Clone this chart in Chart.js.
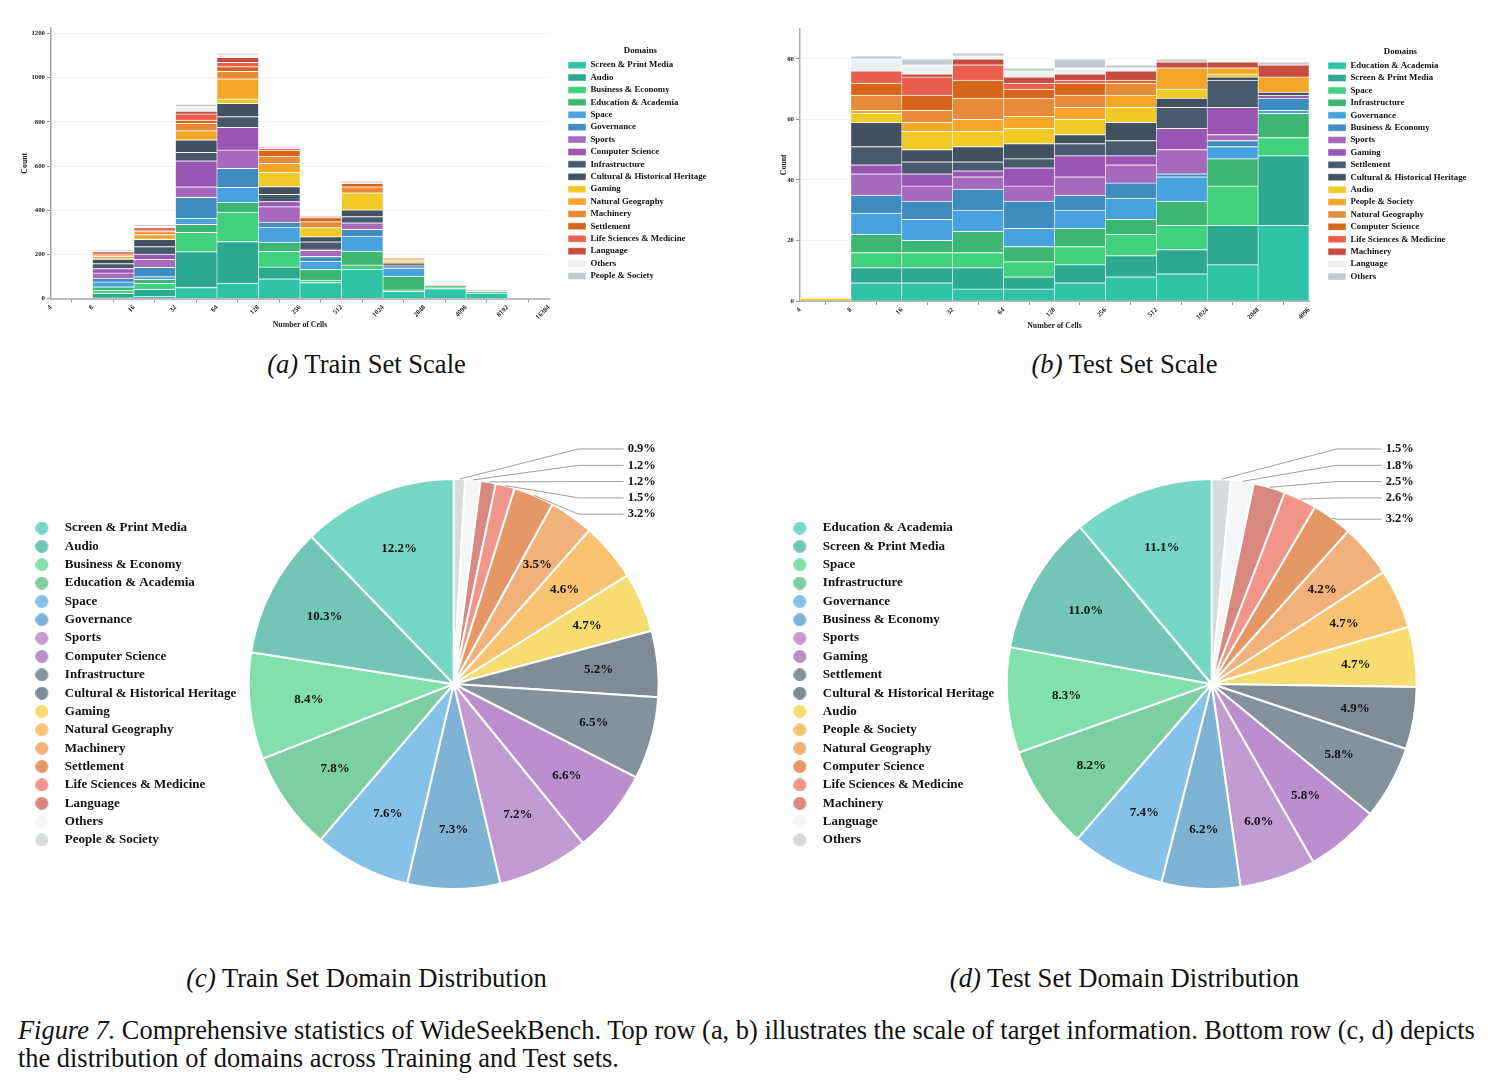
<!DOCTYPE html>
<html><head><meta charset="utf-8">
<script src="https://cdn.jsdelivr.net/npm/chart.js@4.4.1/dist/chart.umd.min.js"></script>
<style>
html,body{margin:0;padding:0;background:#fff;}
body{width:1491px;height:1090px;position:relative;overflow:hidden;font-family:"Liberation Serif","Times New Roman",serif;color:#111;}
canvas{position:absolute;}
.cap{position:absolute;font-size:26.6px;text-align:center;white-space:nowrap;line-height:26px;}
.fig{position:absolute;left:18px;font-size:26.4px;white-space:nowrap;line-height:26px;}
</style></head><body>
<canvas id="trainBar" width="720" height="315" style="left:10px;top:20px"></canvas>
<canvas id="testBar" width="725" height="316" style="left:760px;top:20px"></canvas>
<canvas id="trainPie" width="700" height="480" style="left:0px;top:420px"></canvas>
<canvas id="testPie" width="700" height="480" style="left:758px;top:420px"></canvas>
<div class="cap" style="left:0;width:733px;top:351px"><i>(a)</i> Train Set Scale</div>
<div class="cap" style="left:758px;width:733px;top:351px"><i>(b)</i> Test Set Scale</div>
<div class="cap" style="left:0;width:733px;top:965px"><i>(c)</i> Train Set Domain Distribution</div>
<div class="cap" style="left:758px;width:733px;top:965px"><i>(d)</i> Test Set Domain Distribution</div>
<div class="fig" style="top:1017px"><i>Figure 7.</i> Comprehensive statistics of WideSeekBench. Top row (a, b) illustrates the scale of target information. Bottom row (c, d) depicts</div>
<div class="fig" style="top:1045px">the distribution of domains across Training and Test sets.</div>
<script>
// ---------- shared palette (by legend position) ----------
const palette = ['#1abc9c','#16a085','#2ecc71','#27ae60','#3498db','#2980b9','#9b59b6','#8e44ad','#34495e','#2c3e50','#f1c40f','#f39c12','#e67e22','#d35400','#e74c3c','#c0392b','#ecf0f1','#bdc3c7'];

// ---------- Train set scale (stacked histogram) ----------
const trainTicks = ['4','8','16','32','64','128','256','512','1024','2048','4096','8192','16384'];
const trainDomains = ['Screen & Print Media','Audio','Business & Economy','Education & Academia','Space','Governance','Sports','Computer Science','Infrastructure','Cultural & Historical Heritage','Gaming','Natural Geography','Machinery','Settlement','Life Sciences & Medicine','Language','Others','People & Society'];
const trainScreenPrint = [0, 5, 10, 50, 70, 89, 72, 132, 32, 45, 25, 0];
const trainAudio       = [0, 18, 31, 162, 188, 54, 0, 0, 3, 0, 0, 0];
const trainBusiness    = [0, 15, 28, 88, 133, 71, 11, 20, 4, 4, 6, 0];
const trainEducation   = [0, 15, 18, 36, 45, 42, 49, 63, 61, 9, 0, 0];
const trainSpace       = [0, 22, 12, 27, 68, 67, 38, 68, 38, 0, 0, 0];
const trainGovernance  = [0, 18, 42, 95, 86, 23, 20, 30, 4, 0, 0, 0];
const trainSports      = [0, 23, 36, 48, 83, 70, 28, 30, 2, 0, 0, 0];
const trainCompSci     = [0, 20, 24, 118, 102, 23, 6, 0, 0, 0, 0, 0];
const trainInfra       = [0, 22, 34, 38, 49, 33, 33, 28, 8, 0, 0, 0];
const trainCultural    = [0, 20, 33, 56, 60, 35, 23, 30, 10, 0, 0, 0];
const trainGaming      = [0, 4, 2, 2, 20, 64, 41, 78, 5, 0, 0, 0];
const trainNatGeo      = [0, 9, 20, 40, 91, 41, 0, 0, 6, 1, 0, 0];
const trainMachinery   = [0, 5, 13, 33, 34, 33, 27, 27, 4, 1, 0, 0];
const trainSettlement  = [0, 4, 7, 15, 21, 27, 18, 15, 2, 0, 0, 0];
const trainLifeSci     = [0, 6, 6, 28, 20, 8, 2, 2, 1, 0, 0, 0];
const trainLanguage    = [0, 4, 4, 13, 22, 3, 1, 1, 0, 0, 0, 0];
const trainOthers      = [0, 4, 8, 20, 12, 5, 2, 3, 1, 1, 4, 0];
const trainPeople      = [0, 4, 4, 11, 6, 2, 2, 2, 1, 0, 3, 0];
const trainSeries = [trainScreenPrint, trainAudio, trainBusiness, trainEducation, trainSpace, trainGovernance, trainSports, trainCompSci, trainInfra, trainCultural, trainGaming, trainNatGeo, trainMachinery, trainSettlement, trainLifeSci, trainLanguage, trainOthers, trainPeople];

// ---------- Test set scale (stacked histogram) ----------
const testTicks = ['4','8','16','32','64','128','256','512','1024','2048','4096'];
const testDomains = ['Education & Academia','Screen & Print Media','Space','Infrastructure','Governance','Business & Economy','Sports','Gaming','Settlement','Cultural & Historical Heritage','Audio','People & Society','Natural Geography','Computer Science','Life Sciences & Medicine','Machinery','Language','Others'];
const testEducation   = [0, 6, 6, 4, 4, 6, 8, 9, 12, 25];
const testScreenPrint = [0, 5, 5, 7, 4, 6, 7, 8, 13, 23];
const testSpace       = [0, 5, 5, 5, 5, 6, 7, 8, 13, 6];
const testInfra       = [0, 6, 4, 7, 5, 6, 5, 8, 9, 8];
const testGovernance  = [0, 7, 7, 7, 6, 6, 7, 8, 4, 1];
const testBusiness    = [0, 6, 6, 7, 9, 5, 5, 1, 2, 4];
const testSports      = [0, 7, 5, 4, 5, 6, 6, 8, 2, 0];
const testGaming      = [0, 3, 4, 2, 6, 7, 3, 7, 9, 1];
const testSettlement  = [0, 6, 4, 3, 3, 4, 5, 7, 9, 0];
const testCultural    = [0, 8, 4, 5, 5, 3, 6, 3, 1, 1];
const testAudio       = [1, 3, 6, 5, 5, 5, 5, 3, 1, 0];
const testPeople      = [0, 1, 3, 4, 4, 4, 4, 7, 2, 5];
const testNatGeo      = [0, 5, 4, 7, 6, 4, 4, 0, 0, 0];
const testCompSci     = [0, 4, 5, 6, 3, 4, 1, 0, 0, 0];
const testLifeSci     = [0, 4, 6, 5, 2, 1, 0, 0, 0, 0];
const testMachinery   = [0, 0, 1, 2, 2, 2, 3, 2, 2, 4];
const testLanguage    = [0, 4, 3, 1, 2, 2, 1, 0, 0, 0];
const testOthers      = [0, 1, 2, 1, 1, 3, 1, 1, 0, 1];
const testSeries = [testEducation, testScreenPrint, testSpace, testInfra, testGovernance, testBusiness, testSports, testGaming, testSettlement, testCultural, testAudio, testPeople, testNatGeo, testCompSci, testLifeSci, testMachinery, testLanguage, testOthers];

// ---------- Domain distribution (pie, %) ----------
const trainShares = [12.2, 10.3, 8.4, 7.8, 7.6, 7.3, 7.2, 6.6, 6.5, 5.2, 4.7, 4.6, 3.5, 3.2, 1.5, 1.2, 1.2, 0.9];
const testShares  = [11.1, 11.0, 8.3, 8.2, 7.4, 6.2, 6.0, 5.8, 5.8, 4.9, 4.7, 4.7, 4.2, 3.2, 2.6, 2.5, 1.8, 1.5];

// ---------- helpers ----------
const FONT = "'Liberation Serif', 'Times New Roman', serif";
function alpha(hex, a){ const n=parseInt(hex.slice(1),16); return `rgba(${n>>16&255},${n>>8&255},${n&255},${a})`; }
function mix(hex, a){ const n=parseInt(hex.slice(1),16); const f=c=>Math.round(c*a+255*(1-a)); return `rgb(${f(n>>16&255)},${f(n>>8&255)},${f(n&255)})`; }

// keeps a fixed gap between plot area and a right-hand legend
const legendGap = {
  id:'legendGap',
  beforeLayout(chart, args, opts){
    const lg = chart.legend;
    if (lg && !lg._gapPatched){
      const f = lg.fit;
      lg.fit = function(){ f.call(this); this.width = opts.total; };
      lg._gapPatched = true;
    }
  },
  afterLayout(chart, args, opts){
    const lg = chart.legend;
    if (lg){ lg.left += opts.gap; lg.width -= opts.gap; }
  }
};

function barConfig(c){
  const x0 = Math.log2(+c.ticks[0]), x1 = Math.log2(+c.ticks[c.ticks.length-1]);
  const tickFont = {family:FONT, size:6.8, weight:'bold'};
  const titleFont = {family:FONT, size:7.8, weight:'bold'};
  return {
    type:'bar',
    data:{ datasets: c.domains.map((d,k)=>({
      label:d,
      data: c.series[k].map((v,i)=>({x: Math.log2(+c.ticks[i]) + 0.5, y: v || null})),
      backgroundColor: alpha(palette[k],0.9),
      borderColor:'rgba(255,255,255,0.85)',
      borderWidth:{top:1,left:0.6,right:0.6,bottom:0},
      borderSkipped:false,
      barPercentage:1, categoryPercentage:1
    }))},
    options:{
      responsive:false, animation:false, devicePixelRatio:1,
      layout:{padding:{top:c.padTop, right:c.padRight, left:0, bottom:0}},
      scales:{
        x:{type:'linear', stacked:true, min:x0, max:x1, offset:false,
          ticks:{stepSize:1, autoSkip:false, minRotation:45, maxRotation:45, font:tickFont, color:'#222', padding:1,
                 callback:(v,i)=>c.ticks[i]},
          grid:{display:true, drawOnChartArea:false, drawTicks:true, tickLength:4, tickColor:'#999'},
          border:{color:'#bbb', width:2},
          title:{display:true, text:'Number of Cells', font:titleFont, color:'#222', padding:{top:0,bottom:5.5}},
          afterFit(s){ s.height = c.xH; }
        },
        y:{stacked:true, min:0, max:c.yMax,
          ticks:{font:tickFont, color:'#222', padding:2, callback:(v)=>String(v)},
          afterBuildTicks(s){ const t=[]; for(let v=0; v<=c.yMax; v+=c.yStep) t.push({value:v}); s.ticks=t; },
          grid:{color:'#f3f3f3', tickColor:'#999', tickLength:4},
          border:{color:'#aaa', width:1.5},
          title:{display:true, text:'Count', font:titleFont, color:'#222', padding:{top:c.yTitlePad,bottom:0}},
          afterFit(s){ s.width = c.yW; }
        }
      },
      plugins:{
        legendGap:{total:167.4, gap:15.4},
        legend:{position:'right', align:'start',
          title:{display:true, text:'Domains', font:{family:FONT,size:8.8,weight:'bold'}, color:'#111', padding:{top:18.6,bottom:0}},
          labels:{boxWidth:18, boxHeight:7, padding:3.6, font:{family:FONT,size:8.8,weight:'bold'}, color:'#111'}},
        tooltip:{enabled:false}
      }
    },
    plugins:[legendGap]
  };
}

new Chart(document.getElementById('trainBar'), barConfig({
  ticks:trainTicks, domains:trainDomains, series:trainSeries,
  yMax:1225, yStep:200, padTop:8, padRight:13.6, xH:36.5, yW:41, yTitlePad:10.5
}));
new Chart(document.getElementById('testBar'), barConfig({
  ticks:testTicks, domains:testDomains, series:testSeries,
  yMax:90, yStep:20, padTop:8.5, padRight:8.6, xH:35, yW:40, yTitlePad:19.5
}));

// ---------- pies ----------
function dot(color){
  const cv=document.createElement('canvas'); cv.width=23; cv.height=13;
  const g=cv.getContext('2d'); g.fillStyle=color; g.beginPath(); g.arc(6.5,6.5,6.5,0,Math.PI*2); g.fill();
  return cv;
}
const pieLabels = {
  id:'pieLabels',
  afterDatasetsDraw(chart){
    const ctx=chart.ctx, meta=chart.getDatasetMeta(0), vals=chart.data.datasets[0].data;
    ctx.save();
    ctx.fillStyle='#111'; ctx.textBaseline='middle';
    let slot=0;
    meta.data.forEach((arc,i)=>{
      const p=arc.getProps(['x','y','startAngle','endAngle','outerRadius'],true);
      const mid=(p.startAngle+p.endAngle)/2, r=p.outerRadius;
      const txt=vals[i].toFixed(1)+'%';
      if(vals[i]>=3.4){
        ctx.font=`bold 13px ${FONT}`; ctx.textAlign='center';
        ctx.fillText(txt, p.x+Math.cos(mid)*r*0.71, p.y+Math.sin(mid)*r*0.71);
      } else {
        const px=p.x+Math.cos(mid)*r, py=p.y+Math.sin(mid)*r;
        let ly=p.y-r-30+slot*16.3; slot++;
        if (mid + Math.PI/2 > Math.PI/6) ly=Math.max(ly, py+1);
        ctx.strokeStyle='#888'; ctx.lineWidth=0.8;
        ctx.beginPath(); ctx.moveTo(px,py); ctx.lineTo(p.x+125,ly); ctx.lineTo(p.x+170,ly); ctx.stroke();
        ctx.font=`bold 12.5px ${FONT}`; ctx.textAlign='left';
        ctx.fillText(txt, p.x+174, ly);
      }
    });
    ctx.restore();
  }
};
function pieConfig(domains, shares){
  const labels=[...domains].reverse(), data=[...shares].reverse();
  const cols=palette.map(h=>mix(h,0.6)).reverse();
  return {
    type:'pie',
    data:{labels, datasets:[{data, backgroundColor:cols, borderColor:'#fff', borderWidth:2}]},
    options:{
      responsive:false, animation:false, devicePixelRatio:1,
      layout:{padding:{left:30,right:39,top:58,bottom:10}},
      plugins:{
        legend:{position:'left', reverse:true,
          labels:{usePointStyle:true, pointStyleWidth:23, boxHeight:13, padding:5.35,
            font:{family:FONT,size:13,weight:'bold'}, color:'#111',
            generateLabels:(ch)=>ch.data.labels.map((l,i)=>({text:l, fillStyle:cols[i], strokeStyle:'rgba(0,0,0,0)', lineWidth:0, pointStyle:dot(cols[i]), hidden:false, index:i, fontColor:'#111'}))}},
        tooltip:{enabled:false}
      }
    },
    plugins:[pieLabels]
  };
}
new Chart(document.getElementById('trainPie'), pieConfig(trainDomains, trainShares));
new Chart(document.getElementById('testPie'), pieConfig(testDomains, testShares));
</script>
</body></html>
